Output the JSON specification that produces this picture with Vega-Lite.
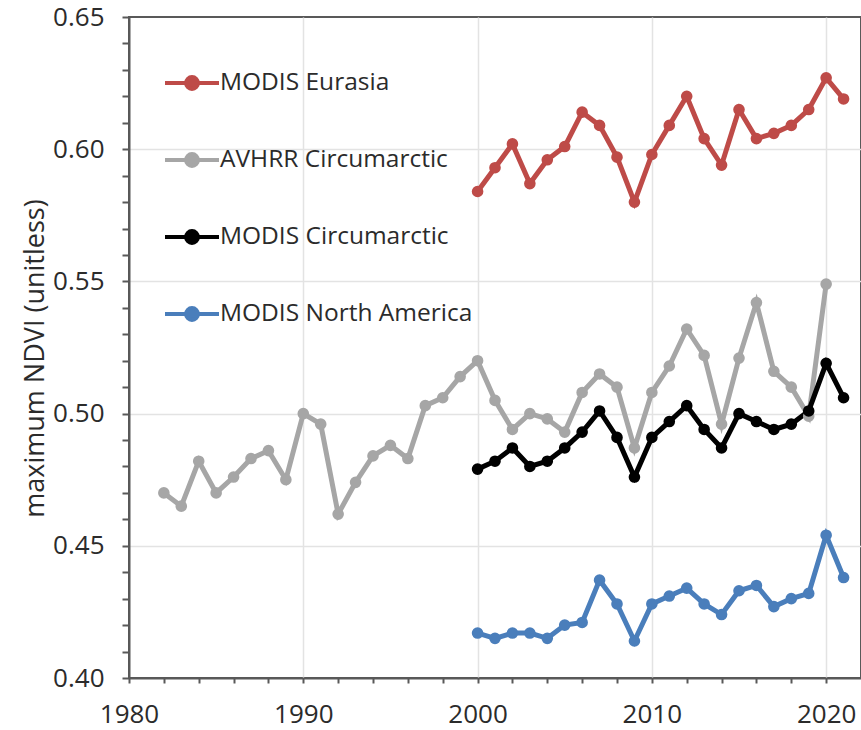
{
  "$schema": "https://vega.github.io/schema/vega-lite/v6.json",
  "width": 732,
  "height": 661,
  "autosize": {"type": "none"},
  "padding": {"left": 129, "top": 17, "right": 0, "bottom": 52},
  "background": "white",
  "config": {"view": {"stroke": "#595959", "strokeWidth": 2}, "font": "Open Sans"},
  "datasets": {
    "ndvi": [
      {"year": 1982, "series": "AVHRR Circumarctic", "ndvi": 0.470},
      {"year": 1983, "series": "AVHRR Circumarctic", "ndvi": 0.465},
      {"year": 1984, "series": "AVHRR Circumarctic", "ndvi": 0.482},
      {"year": 1985, "series": "AVHRR Circumarctic", "ndvi": 0.470},
      {"year": 1986, "series": "AVHRR Circumarctic", "ndvi": 0.476},
      {"year": 1987, "series": "AVHRR Circumarctic", "ndvi": 0.483},
      {"year": 1988, "series": "AVHRR Circumarctic", "ndvi": 0.486},
      {"year": 1989, "series": "AVHRR Circumarctic", "ndvi": 0.475},
      {"year": 1990, "series": "AVHRR Circumarctic", "ndvi": 0.500},
      {"year": 1991, "series": "AVHRR Circumarctic", "ndvi": 0.496},
      {"year": 1992, "series": "AVHRR Circumarctic", "ndvi": 0.462},
      {"year": 1993, "series": "AVHRR Circumarctic", "ndvi": 0.474},
      {"year": 1994, "series": "AVHRR Circumarctic", "ndvi": 0.484},
      {"year": 1995, "series": "AVHRR Circumarctic", "ndvi": 0.488},
      {"year": 1996, "series": "AVHRR Circumarctic", "ndvi": 0.483},
      {"year": 1997, "series": "AVHRR Circumarctic", "ndvi": 0.503},
      {"year": 1998, "series": "AVHRR Circumarctic", "ndvi": 0.506},
      {"year": 1999, "series": "AVHRR Circumarctic", "ndvi": 0.514},
      {"year": 2000, "series": "AVHRR Circumarctic", "ndvi": 0.520},
      {"year": 2001, "series": "AVHRR Circumarctic", "ndvi": 0.505},
      {"year": 2002, "series": "AVHRR Circumarctic", "ndvi": 0.494},
      {"year": 2003, "series": "AVHRR Circumarctic", "ndvi": 0.500},
      {"year": 2004, "series": "AVHRR Circumarctic", "ndvi": 0.498},
      {"year": 2005, "series": "AVHRR Circumarctic", "ndvi": 0.493},
      {"year": 2006, "series": "AVHRR Circumarctic", "ndvi": 0.508},
      {"year": 2007, "series": "AVHRR Circumarctic", "ndvi": 0.515},
      {"year": 2008, "series": "AVHRR Circumarctic", "ndvi": 0.510},
      {"year": 2009, "series": "AVHRR Circumarctic", "ndvi": 0.487},
      {"year": 2010, "series": "AVHRR Circumarctic", "ndvi": 0.508},
      {"year": 2011, "series": "AVHRR Circumarctic", "ndvi": 0.518},
      {"year": 2012, "series": "AVHRR Circumarctic", "ndvi": 0.532},
      {"year": 2013, "series": "AVHRR Circumarctic", "ndvi": 0.522},
      {"year": 2014, "series": "AVHRR Circumarctic", "ndvi": 0.496},
      {"year": 2015, "series": "AVHRR Circumarctic", "ndvi": 0.521},
      {"year": 2016, "series": "AVHRR Circumarctic", "ndvi": 0.542},
      {"year": 2017, "series": "AVHRR Circumarctic", "ndvi": 0.516},
      {"year": 2018, "series": "AVHRR Circumarctic", "ndvi": 0.510},
      {"year": 2019, "series": "AVHRR Circumarctic", "ndvi": 0.499},
      {"year": 2020, "series": "AVHRR Circumarctic", "ndvi": 0.549},

      {"year": 2000, "series": "MODIS Eurasia", "ndvi": 0.584},
      {"year": 2001, "series": "MODIS Eurasia", "ndvi": 0.593},
      {"year": 2002, "series": "MODIS Eurasia", "ndvi": 0.602},
      {"year": 2003, "series": "MODIS Eurasia", "ndvi": 0.587},
      {"year": 2004, "series": "MODIS Eurasia", "ndvi": 0.596},
      {"year": 2005, "series": "MODIS Eurasia", "ndvi": 0.601},
      {"year": 2006, "series": "MODIS Eurasia", "ndvi": 0.614},
      {"year": 2007, "series": "MODIS Eurasia", "ndvi": 0.609},
      {"year": 2008, "series": "MODIS Eurasia", "ndvi": 0.597},
      {"year": 2009, "series": "MODIS Eurasia", "ndvi": 0.580},
      {"year": 2010, "series": "MODIS Eurasia", "ndvi": 0.598},
      {"year": 2011, "series": "MODIS Eurasia", "ndvi": 0.609},
      {"year": 2012, "series": "MODIS Eurasia", "ndvi": 0.620},
      {"year": 2013, "series": "MODIS Eurasia", "ndvi": 0.604},
      {"year": 2014, "series": "MODIS Eurasia", "ndvi": 0.594},
      {"year": 2015, "series": "MODIS Eurasia", "ndvi": 0.615},
      {"year": 2016, "series": "MODIS Eurasia", "ndvi": 0.604},
      {"year": 2017, "series": "MODIS Eurasia", "ndvi": 0.606},
      {"year": 2018, "series": "MODIS Eurasia", "ndvi": 0.609},
      {"year": 2019, "series": "MODIS Eurasia", "ndvi": 0.615},
      {"year": 2020, "series": "MODIS Eurasia", "ndvi": 0.627},
      {"year": 2021, "series": "MODIS Eurasia", "ndvi": 0.619},

      {"year": 2000, "series": "MODIS Circumarctic", "ndvi": 0.479},
      {"year": 2001, "series": "MODIS Circumarctic", "ndvi": 0.482},
      {"year": 2002, "series": "MODIS Circumarctic", "ndvi": 0.487},
      {"year": 2003, "series": "MODIS Circumarctic", "ndvi": 0.480},
      {"year": 2004, "series": "MODIS Circumarctic", "ndvi": 0.482},
      {"year": 2005, "series": "MODIS Circumarctic", "ndvi": 0.487},
      {"year": 2006, "series": "MODIS Circumarctic", "ndvi": 0.493},
      {"year": 2007, "series": "MODIS Circumarctic", "ndvi": 0.501},
      {"year": 2008, "series": "MODIS Circumarctic", "ndvi": 0.491},
      {"year": 2009, "series": "MODIS Circumarctic", "ndvi": 0.476},
      {"year": 2010, "series": "MODIS Circumarctic", "ndvi": 0.491},
      {"year": 2011, "series": "MODIS Circumarctic", "ndvi": 0.497},
      {"year": 2012, "series": "MODIS Circumarctic", "ndvi": 0.503},
      {"year": 2013, "series": "MODIS Circumarctic", "ndvi": 0.494},
      {"year": 2014, "series": "MODIS Circumarctic", "ndvi": 0.487},
      {"year": 2015, "series": "MODIS Circumarctic", "ndvi": 0.500},
      {"year": 2016, "series": "MODIS Circumarctic", "ndvi": 0.497},
      {"year": 2017, "series": "MODIS Circumarctic", "ndvi": 0.494},
      {"year": 2018, "series": "MODIS Circumarctic", "ndvi": 0.496},
      {"year": 2019, "series": "MODIS Circumarctic", "ndvi": 0.501},
      {"year": 2020, "series": "MODIS Circumarctic", "ndvi": 0.519},
      {"year": 2021, "series": "MODIS Circumarctic", "ndvi": 0.506},

      {"year": 2000, "series": "MODIS North America", "ndvi": 0.417},
      {"year": 2001, "series": "MODIS North America", "ndvi": 0.415},
      {"year": 2002, "series": "MODIS North America", "ndvi": 0.417},
      {"year": 2003, "series": "MODIS North America", "ndvi": 0.417},
      {"year": 2004, "series": "MODIS North America", "ndvi": 0.415},
      {"year": 2005, "series": "MODIS North America", "ndvi": 0.420},
      {"year": 2006, "series": "MODIS North America", "ndvi": 0.421},
      {"year": 2007, "series": "MODIS North America", "ndvi": 0.437},
      {"year": 2008, "series": "MODIS North America", "ndvi": 0.428},
      {"year": 2009, "series": "MODIS North America", "ndvi": 0.414},
      {"year": 2010, "series": "MODIS North America", "ndvi": 0.428},
      {"year": 2011, "series": "MODIS North America", "ndvi": 0.431},
      {"year": 2012, "series": "MODIS North America", "ndvi": 0.434},
      {"year": 2013, "series": "MODIS North America", "ndvi": 0.428},
      {"year": 2014, "series": "MODIS North America", "ndvi": 0.424},
      {"year": 2015, "series": "MODIS North America", "ndvi": 0.433},
      {"year": 2016, "series": "MODIS North America", "ndvi": 0.435},
      {"year": 2017, "series": "MODIS North America", "ndvi": 0.427},
      {"year": 2018, "series": "MODIS North America", "ndvi": 0.430},
      {"year": 2019, "series": "MODIS North America", "ndvi": 0.432},
      {"year": 2020, "series": "MODIS North America", "ndvi": 0.454},
      {"year": 2021, "series": "MODIS North America", "ndvi": 0.438}
    ]
  },
  "data": {"name": "ndvi"},
  "mark": {"type": "line", "strokeWidth": 5, "point": {"filled": true, "size": 135}},
  "encoding": {
    "x": {
      "field": "year",
      "type": "quantitative",
      "scale": {"domain": [1980, 2022], "nice": false, "zero": false},
      "axis": {
        "title": null,
        "values": [1980, 1982, 1984, 1986, 1988, 1990, 1992, 1994, 1996, 1998, 2000, 2002, 2004, 2006, 2008, 2010, 2012, 2014, 2016, 2018, 2020],
        "format": "d",
        "labelExpr": "datum.value % 10 == 0 ? format(datum.value, 'd') : ''",
        "labelOverlap": false,
        "labelFlush": false,
        "labelFontSize": 26,
        "labelColor": "#2b2b2b",
        "labelPadding": 18,
        "tickSize": 5,
        "tickWidth": 2,
        "tickColor": "#595959",
        "domainColor": "#595959",
        "domainWidth": 2,
        "grid": true,
        "gridColor": "#e3e3e3",
        "gridWidth": 1.5,
        "gridOpacity": {"condition": {"test": "datum.value % 10 == 0 && datum.value > 1980", "value": 1}, "value": 0}
      }
    },
    "y": {
      "field": "ndvi",
      "type": "quantitative",
      "scale": {"domain": [0.40, 0.65], "nice": false, "zero": false},
      "axis": {
        "title": "maximum NDVI (unitless)",
        "titleFontSize": 27,
        "titleFontWeight": "normal",
        "titleColor": "#2b2b2b",
        "titlePadding": 3,
        "titleY": 341,
        "values": [0.40, 0.41, 0.42, 0.43, 0.44, 0.45, 0.46, 0.47, 0.48, 0.49, 0.50, 0.51, 0.52, 0.53, 0.54, 0.55, 0.56, 0.57, 0.58, 0.59, 0.60, 0.61, 0.62, 0.63, 0.64, 0.65],
        "format": ".2f",
        "labelExpr": "round(datum.value * 100) % 5 == 0 ? format(datum.value, '.2f') : ''",
        "labelOverlap": false,
        "labelFlush": false,
        "labelFontSize": 26,
        "labelColor": "#2b2b2b",
        "labelPadding": 18,
        "tickSize": 7,
        "tickWidth": 2,
        "tickColor": "#595959",
        "domainColor": "#595959",
        "domainWidth": 2,
        "grid": true,
        "gridColor": "#e3e3e3",
        "gridWidth": 1.5,
        "gridOpacity": {"condition": {"test": "round(datum.value * 100) % 5 == 0 && datum.value > 0.405 && datum.value < 0.645", "value": 1}, "value": 0}
      }
    },
    "color": {
      "field": "series",
      "type": "nominal",
      "scale": {
        "domain": ["MODIS Eurasia", "AVHRR Circumarctic", "MODIS Circumarctic", "MODIS North America"],
        "range": ["#BE4B48", "#A6A6A6", "#000000", "#4A7EBB"]
      },
      "legend": {
        "title": null,
        "orient": "none",
        "legendX": 34,
        "legendY": 37,
        "symbolType": "M-1,0L1,0M-0.22,0A0.22,0.22,0,1,1,0.22,0A0.22,0.22,0,1,1,-0.22,0Z",
        "symbolSize": 2916,
        "symbolStrokeWidth": 4,
        "labelFontSize": 24.5,
        "labelColor": "#2b2b2b",
        "labelOffset": -1,
        "rowPadding": 34,
        "labelLimit": 400,
        "encode": {
          "symbols": {
            "update": {
              "fill": {"scale": "color", "field": "value"},
              "stroke": {"scale": "color", "field": "value"},
              "opacity": {"value": 1}
            }
          }
        }
      }
    }
  }
}
